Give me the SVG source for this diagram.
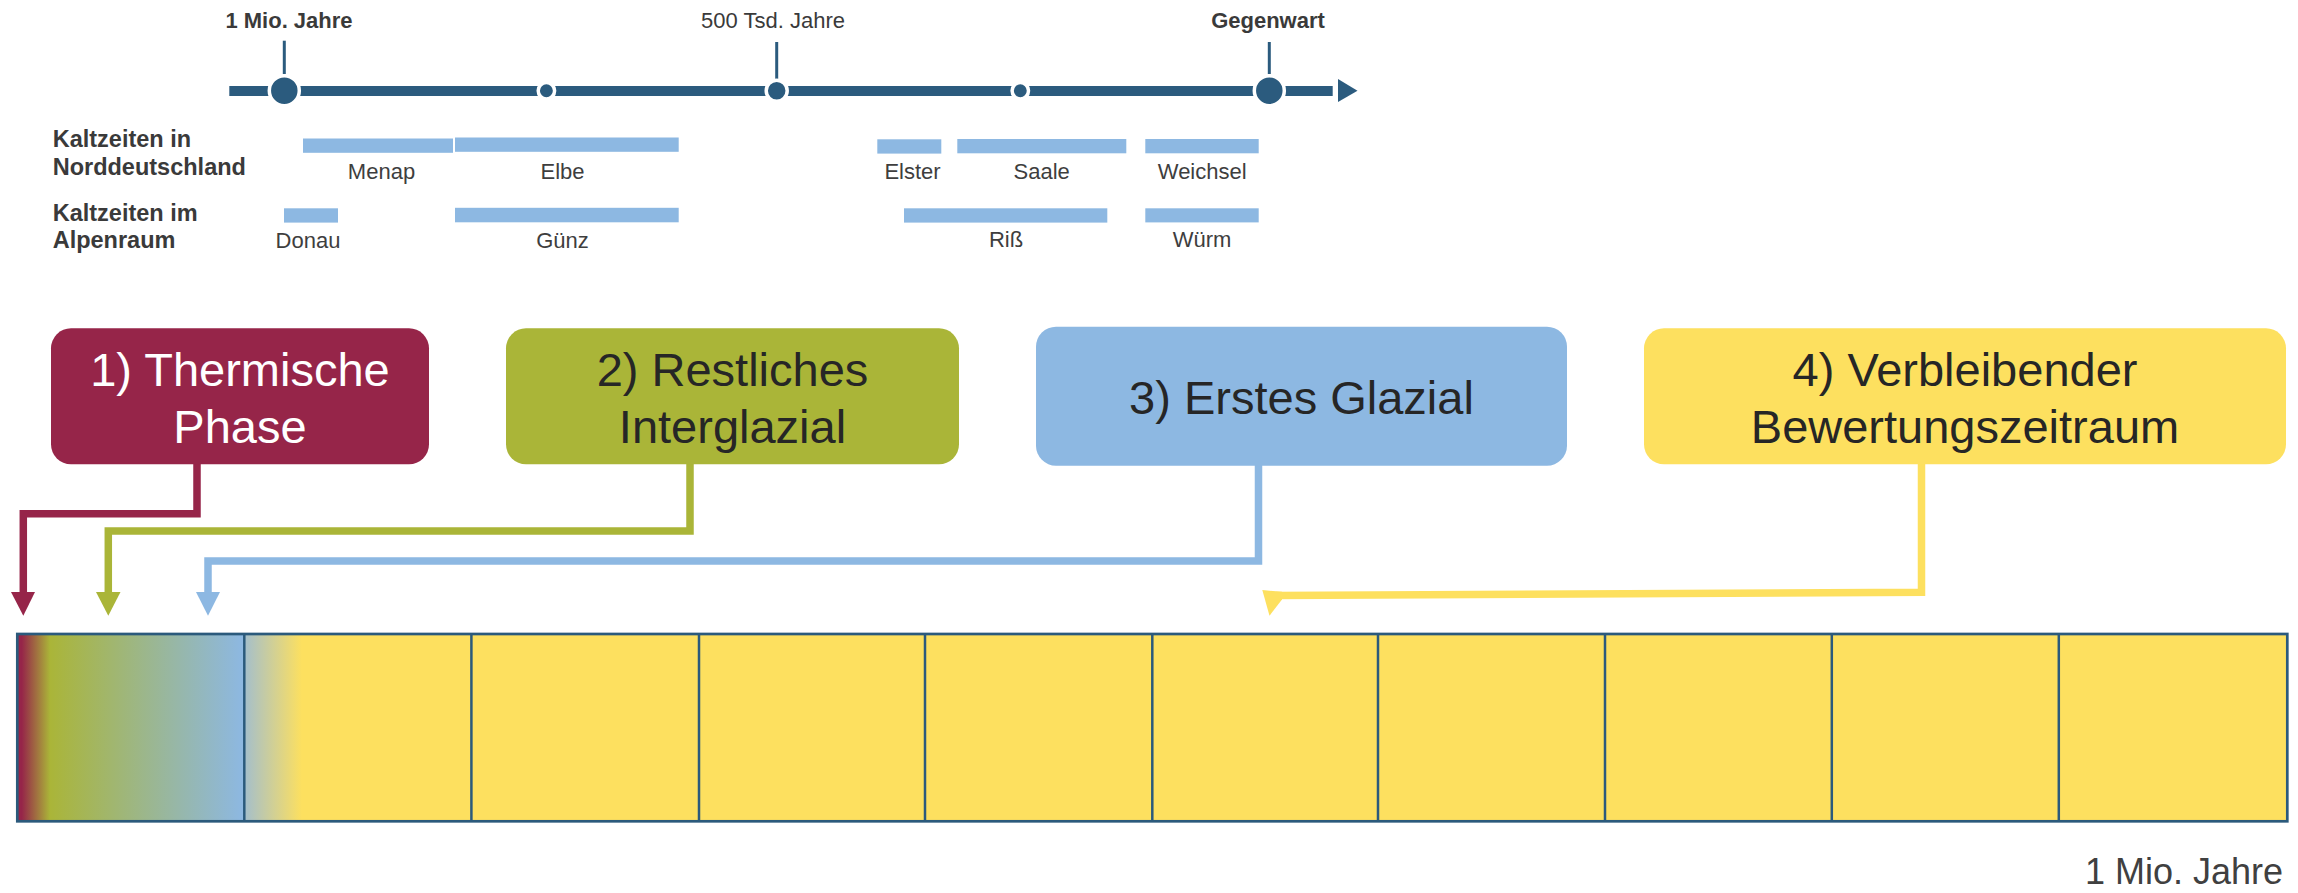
<svg xmlns="http://www.w3.org/2000/svg" width="2298" height="893" viewBox="0 0 2298 893">
<style>
text{font-family:"Liberation Sans",Arial,sans-serif}
.top{font-size:22px;fill:#3a3a3a;text-anchor:middle}
.topb{font-size:22px;font-weight:bold;fill:#3a3a3a;text-anchor:middle}
.rowlbl{font-size:23.5px;font-weight:bold;fill:#3a3a3a}
.per{font-size:22px;fill:#3e3e3e;text-anchor:middle}
.bar{fill:#8db8e2}
.box{font-size:47px;text-anchor:middle;fill:#262626}
.tl{stroke:#2b5b7e}
.dot{fill:#2b5b7e;stroke:#fff;stroke-width:3.5}
.conn{fill:none;stroke-width:7.5;stroke-linejoin:miter}
.div{stroke:#2b5a7c;stroke-width:2.5}
</style>
<defs>
<linearGradient id="grad" gradientUnits="userSpaceOnUse" x1="16" y1="0" x2="302" y2="0">
<stop offset="0" stop-color="#962549"/>
<stop offset="0.02" stop-color="#962549"/>
<stop offset="0.119" stop-color="#aab538"/>
<stop offset="0.794" stop-color="#8db8e2"/>
<stop offset="0.80" stop-color="#a5bfcb"/>
<stop offset="1" stop-color="#fde05f"/>
</linearGradient>
</defs>

<g id="timeline">
<line class="tl" x1="229.3" y1="91" x2="1332.7" y2="91" stroke-width="10"/>
<polygon points="1338,79 1357.5,90.7 1338,102" fill="#2b5b7e"/>
<line class="tl" x1="284.3" y1="40.7" x2="284.3" y2="74" stroke-width="3"/>
<line class="tl" x1="776.7" y1="42" x2="776.7" y2="80" stroke-width="3"/>
<line class="tl" x1="1269.3" y1="42" x2="1269.3" y2="74" stroke-width="3"/>
<circle class="dot" cx="284.3" cy="90.7" r="15"/>
<circle class="dot" cx="546.4" cy="90.7" r="8.2"/>
<circle class="dot" cx="776.7" cy="90.7" r="10.5"/>
<circle class="dot" cx="1020.3" cy="90.7" r="8.2"/>
<circle class="dot" cx="1269.3" cy="90.7" r="15"/>
<text class="topb" x="289" y="27.7">1 Mio. Jahre</text>
<text class="top" x="773" y="27.7">500 Tsd. Jahre</text>
<text class="topb" x="1268" y="27.5">Gegenwart</text>
</g>

<g id="kaltzeiten-nord">
<text class="rowlbl" x="52.7" y="146.7">Kaltzeiten in</text>
<text class="rowlbl" x="52.7" y="175">Norddeutschland</text>
<rect class="bar" x="303" y="138.5" width="150" height="14.3"/>
<rect class="bar" x="455" y="137.5" width="223.7" height="14.3"/>
<rect class="bar" x="877.3" y="139.3" width="64" height="14.3"/>
<rect class="bar" x="957.3" y="139" width="169" height="14.3"/>
<rect class="bar" x="1145.3" y="139" width="113.4" height="14.3"/>
<text class="per" x="381.5" y="179">Menap</text>
<text class="per" x="562.5" y="179">Elbe</text>
<text class="per" x="912.5" y="179.3">Elster</text>
<text class="per" x="1041.7" y="179.3">Saale</text>
<text class="per" x="1202.2" y="179.3">Weichsel</text>
</g>

<g id="kaltzeiten-alpen">
<text class="rowlbl" x="52.7" y="220.7">Kaltzeiten im</text>
<text class="rowlbl" x="52.7" y="248.3">Alpenraum</text>
<rect class="bar" x="284" y="208.3" width="54" height="14.3"/>
<rect class="bar" x="455" y="207.8" width="223.7" height="14.5"/>
<rect class="bar" x="904" y="208.3" width="203.3" height="14.3"/>
<rect class="bar" x="1145.3" y="208.3" width="113.4" height="14.1"/>
<text class="per" x="308" y="248.3">Donau</text>
<text class="per" x="562.5" y="247.5">Günz</text>
<text class="per" x="1006" y="247.3">Riß</text>
<text class="per" x="1202" y="247.3">Würm</text>
</g>

<g id="connectors">
<path class="conn" stroke="#962549" d="M197,464 V513.7 H23.3 V594"/>
<polygon fill="#962549" points="11,592 35,592 23.3,615.7"/>
<path class="conn" stroke="#aab538" d="M690,464 V531 H108.3 V594"/>
<polygon fill="#aab538" points="96,592 120.5,592 108.3,615.7"/>
<path class="conn" stroke="#8db8e2" d="M1258.5,465 V561 H208 V594"/>
<polygon fill="#8db8e2" points="196,592 220,592 208,615.7"/>
<path class="conn" stroke="#fde05f" d="M1921.5,464 V592.3 L1276,595.6"/>
<polygon fill="#fde05f" points="1262.3,590 1282,591.8 1282,599.5 1269.5,615.7"/>
</g>

<g id="node1">
<rect x="51" y="328.3" width="378" height="136" rx="20" fill="#962549"/>
<text class="box" x="240" y="385.7" style="fill:#fff">1) Thermische</text>
<text class="box" x="240" y="443.3" style="fill:#fff">Phase</text>
</g>
<g id="node2">
<rect x="506" y="328.3" width="453" height="136" rx="20" fill="#aab538"/>
<text class="box" x="732.5" y="385.5">2) Restliches</text>
<text class="box" x="732.5" y="442.7">Interglazial</text>
</g>
<g id="node3">
<rect x="1036" y="326.7" width="531" height="139" rx="20" fill="#8db8e2"/>
<text class="box" x="1301.5" y="414.3">3) Erstes Glazial</text>
</g>
<g id="node4">
<rect x="1644" y="328.3" width="642" height="136" rx="20" fill="#fde05f"/>
<text class="box" x="1965" y="385.7">4) Verbleibender</text>
<text class="box" x="1965" y="443.3">Bewertungszeitraum</text>
</g>

<g id="zeitbalken">
<rect x="17.3" y="634" width="2270" height="187.3" fill="#fde05f"/>
<rect x="17.3" y="634" width="285" height="187.3" fill="url(#grad)"/>
<line class="div" x1="244.3" y1="634" x2="244.3" y2="821.3"/>
<line class="div" x1="471.4" y1="634" x2="471.4" y2="821.3"/>
<line class="div" x1="699" y1="634" x2="699" y2="821.3"/>
<line class="div" x1="925" y1="634" x2="925" y2="821.3"/>
<line class="div" x1="1152.3" y1="634" x2="1152.3" y2="821.3"/>
<line class="div" x1="1378" y1="634" x2="1378" y2="821.3"/>
<line class="div" x1="1605" y1="634" x2="1605" y2="821.3"/>
<line class="div" x1="1831.8" y1="634" x2="1831.8" y2="821.3"/>
<line class="div" x1="2058.8" y1="634" x2="2058.8" y2="821.3"/>
<rect x="17.3" y="634" width="2270" height="187.3" fill="none" stroke="#2b5a7c" stroke-width="2.7"/>
<text x="2283" y="884" font-size="36" fill="#404040" text-anchor="end">1 Mio. Jahre</text>
</g>
</svg>
